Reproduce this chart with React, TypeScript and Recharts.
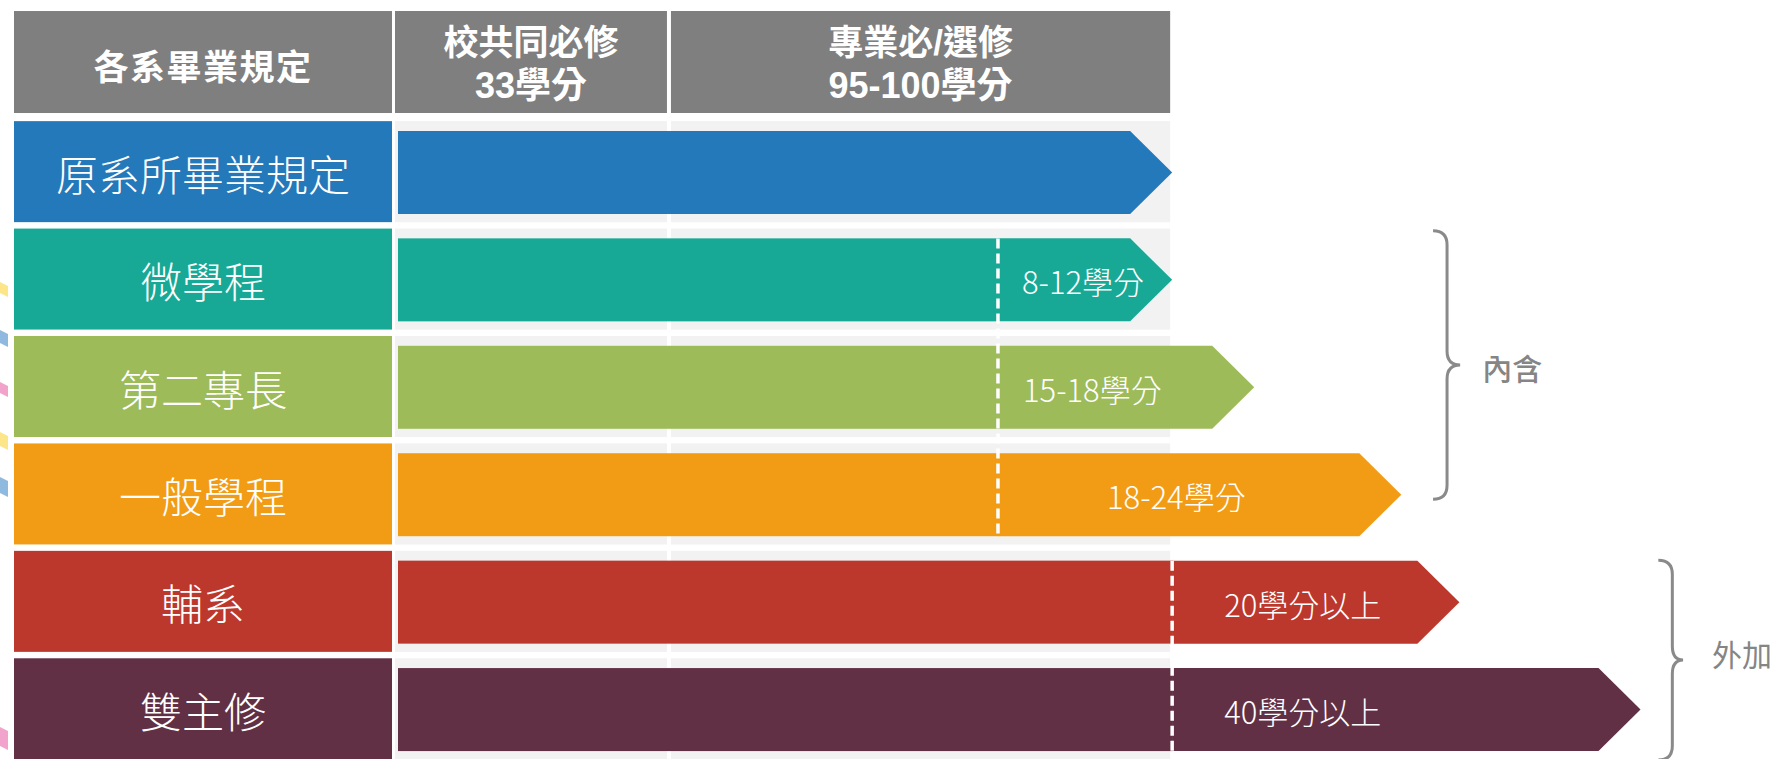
import React from 'react';
import { ComposedChart, Bar, XAxis, YAxis, ReferenceArea, ReferenceLine } from 'recharts';

// ---------------- data ----------------
const categories = ['各系畢業規定', '原系所畢業規定', '微學程', '第二專長', '一般學程', '輔系', '雙主修'];
// start of the extra (program) segment on the schematic length axis (main requirement = 100)
const splitValues: (number | null)[] = [null, 0, 77.5, 77.5, 77.5, 100, 100];
// arrow tip on the same axis
const tipValues: (number | null)[] = [null, 100, 100, 110.6, 129.6, 137.1, 160.5];
const extraLabels = ['', '', '8-12學分', '15-18學分', '18-24學分', '20學分以上', '40學分以上'];
const headerTitles = ['校共同必修', '專業必/選修'];
const headerCredits = ['33學分', '95-100學分'];
const columnBounds = [0, 35, 100];
const groupLabels = ['內含', '外加'];
const groupFrom = ['微學程', '輔系'];
const groupTo = ['一般學程', '雙主修'];

const data = categories.map((name, i) => ({
  name,
  base: splitValues[i],
  extra: tipValues[i] == null || splitValues[i] == null ? null : (tipValues[i] as number) - (splitValues[i] as number),
  label: extraLabels[i],
}));

// split lines: consecutive rows sharing the same split value (> 0)
const splitGroups: { value: number; from: string; to: string }[] = [];
data.forEach((d) => {
  if (d.base == null || d.base <= 0) return;
  const last = splitGroups[splitGroups.length - 1];
  if (last && last.value === d.base) last.to = d.name;
  else splitGroups.push({ value: d.base, from: d.name, to: d.name });
});

// ---------------- styles ----------------
const HEADER_GRAY = '#7f7f7f';
const BAND_GRAY = '#f2f2f2';
const ROW_COLORS: Record<string, string> = {
  原系所畢業規定: '#2479ba',
  微學程: '#17a996',
  第二專長: '#9dbb58',
  一般學程: '#f29c16',
  輔系: '#bc372c',
  雙主修: '#623045',
};
const BAR_DY = 1.5;
const LABEL_OFFSET: Record<string, number> = { 微學程: 24, 第二專長: 25, 一般學程: 109, 輔系: 52, 雙主修: 52 };
const BRACE_X = [
  [133.7, 137.2],
  [162.8, 166.0],
];
const BRACE_INSET = [
  { top: 6, bottom: 48, textDx: 22, textDy: 2, weight: 500, color: '#858585' },
  { top: 13, bottom: 2, textDx: 29, textDy: -7, weight: 400, color: '#858585' },
];
const CJK = "'Noto Sans CJK TC', 'Noto Sans CJK SC', sans-serif";
const MIXED = "'Liberation Sans', 'Noto Sans CJK TC', sans-serif";

const LabelTick = (props: any) => {
  const { x, y, payload } = props;
  const name = payload.value as string;
  const isHeader = name === categories[0];
  const left = x - 384;
  const w = 378;
  if (isHeader) {
    return (
      <g>
        <rect x={left} y={y - 52.7} width={w} height={102} fill={HEADER_GRAY} />
        <text x={left + w / 2} y={y + 1} textAnchor="middle" dominantBaseline="central" fill="#fff" fontSize={35} fontWeight={700} fontFamily={CJK} letterSpacing={1.5}>
          {name}
        </text>
      </g>
    );
  }
  return (
    <g>
      <rect x={left} y={y - 50} width={w} height={101} fill={ROW_COLORS[name]} />
      <text x={left + w / 2} y={y + 1} textAnchor="middle" dominantBaseline="central" fill="#fff" fontSize={42} fontWeight={300} fontFamily={CJK}>
        {name}
      </text>
    </g>
  );
};

const BaseShape = (props: any) => {
  const { x, y, width, height, payload } = props;
  if (!payload || !(width > 0)) return null;
  return <rect x={x} y={y + BAR_DY} width={width + 0.6} height={height} fill={ROW_COLORS[payload.name]} />;
};

const ArrowShape = (props: any) => {
  const { x, width, height, payload } = props;
  const y = props.y + BAR_DY;
  if (!payload || !(width > 0)) return null;
  const tip = x + width;
  const half = height / 2;
  const notch = Math.min(half + 0.5, width);
  const pts = `${x},${y} ${tip - notch},${y} ${tip},${y + half} ${tip - notch},${y + height} ${x},${y + height}`;
  return (
    <g>
      <polygon points={pts} fill={ROW_COLORS[payload.name]} />
      {payload.label ? (
        <text x={x + (LABEL_OFFSET[payload.name] ?? 20)} y={y + half + 1} dominantBaseline="central" fill="#fff" fontSize={31} fontWeight={300} fontFamily={CJK}>
          {payload.label}
        </text>
      ) : null}
    </g>
  );
};

const BandShape = (inset: { top: number; bottom: number }, first: boolean) => (props: any) => {
  const { x, y, width, height } = props;
  const l = x + (first ? -3 : 2);
  const r = x + width - 2;
  return <rect x={l} y={y + inset.top} width={r - l} height={height - inset.top - inset.bottom} fill={BAND_GRAY} />;
};

const HeaderShape = (i: number) => (props: any) => {
  const { x, y, width } = props;
  const l = x + (i === 0 ? -3 : 2);
  const r = x + width - 2;
  const cx = (l + r) / 2;
  return (
    <g>
      <rect x={l} y={y + 1} width={r - l} height={102} fill={HEADER_GRAY} />
      <text x={cx} y={y + 32} textAnchor="middle" dominantBaseline="central" fill="#fff" fontSize={35} fontWeight={700} fontFamily={MIXED}>
        {headerTitles[i]}
      </text>
      <text x={cx} y={y + 75} textAnchor="middle" dominantBaseline="central" fill="#fff" fontSize={36} fontWeight={700} fontFamily={MIXED}>
        {headerCredits[i]}
      </text>
    </g>
  );
};

const DashShape = (props: any) => {
  const { x1, y1, x2, y2 } = props;
  return <line x1={x1} y1={y1 - 41.5 + BAR_DY} x2={x2} y2={y2 + 41.5 + BAR_DY} stroke="#fff" strokeWidth={3.5} strokeDasharray="10 5" />;
};

const BraceShape = (g: number) => (props: any) => {
  const { x, y, width, height } = props;
  const ins = BRACE_INSET[g];
  const top = y + ins.top;
  const bottom = y + height - ins.bottom;
  const mid = (top + bottom) / 2;
  const xl = x + 14;
  const xt = x + width;
  const r = 14;
  const d = `M${x},${top} Q${xl},${top} ${xl},${top + r} L${xl},${mid - r} Q${xl},${mid} ${xt},${mid} Q${xl},${mid} ${xl},${mid + r} L${xl},${bottom - r} Q${xl},${bottom} ${x},${bottom}`;
  return (
    <g>
      <path d={d} fill="none" stroke="#8a8a8a" strokeWidth={3} />
      <text x={xt + ins.textDx} y={mid + ins.textDy} dominantBaseline="central" fill={ins.color} fontSize={30} fontWeight={ins.weight} fontFamily={CJK}>
        {groupLabels[g]}
      </text>
    </g>
  );
};

const DECOR = [
  { y: 282, h: 15, c: '#fde58a' },
  { y: 330, h: 17, c: '#8fb9de' },
  { y: 382, h: 15, c: '#f2a3cb' },
  { y: 432, h: 18, c: '#fde58a' },
  { y: 477, h: 20, c: '#8fb9de' },
  { y: 727, h: 23, c: '#f2a3cb' },
];

export default function App() {
  return (
    <div style={{ position: 'absolute', left: 0, top: 0, width: 1776, height: 759, overflow: 'hidden', background: '#fff', fontFamily: CJK }}>
      <ComposedChart
        layout="vertical"
        width={1776}
        height={765}
        data={data}
        margin={{ top: 10, right: 0, bottom: 3, left: 0 }}
      >
        <XAxis type="number" domain={[0, 178]} hide allowDataOverflow />
        <YAxis
          type="category"
          dataKey="name"
          width={398}
          interval={0}
          tickLine={false}
          axisLine={false}
          tickSize={0}
          tickMargin={0}
          tick={<LabelTick />}
        />
        {headerTitles.map((t, i) => (
          <ReferenceArea
            key={'h' + t}
            x1={columnBounds[i]}
            x2={columnBounds[i + 1]}
            y1={categories[0]}
            y2={categories[0]}
            shape={HeaderShape(i)}
            zIndex={100}
          />
        ))}
        {categories.slice(1).map((c) =>
          headerTitles.map((t, i) => (
            <ReferenceArea
              key={c + t}
              x1={columnBounds[i]}
              x2={columnBounds[i + 1]}
              y1={c}
              y2={c}
              shape={BandShape({ top: 3.7, bottom: 2.6 }, i === 0)}
              zIndex={100}
            />
          ))
        )}
        <Bar dataKey="base" stackId="s" barSize={83} isAnimationActive={false} shape={<BaseShape />} />
        <Bar dataKey="extra" stackId="s" barSize={83} isAnimationActive={false} shape={<ArrowShape />} />
        {splitGroups.map((g) => (
          <ReferenceLine
            key={'d' + g.from}
            segment={[
              { x: g.value, y: g.from },
              { x: g.value, y: g.to },
            ]}
            shape={DashShape}
            zIndex={1000}
          />
        ))}
        {groupLabels.map((l, g) => (
          <ReferenceArea
            key={'b' + l}
            x1={BRACE_X[g][0]}
            x2={BRACE_X[g][1]}
            y1={groupFrom[g]}
            y2={groupTo[g]}
            shape={BraceShape(g)}
            zIndex={1000}
          />
        ))}
      </ComposedChart>
      <svg width={10} height={759} style={{ position: 'absolute', left: 0, top: 0, pointerEvents: 'none' }}>
        {DECOR.map((d, i) => (
          <polygon key={i} points={`0,${d.y} 8,${d.y + 4} 8,${d.y + d.h} 0,${d.y + d.h - 4}`} fill={d.c} />
        ))}
      </svg>
    </div>
  );
}
